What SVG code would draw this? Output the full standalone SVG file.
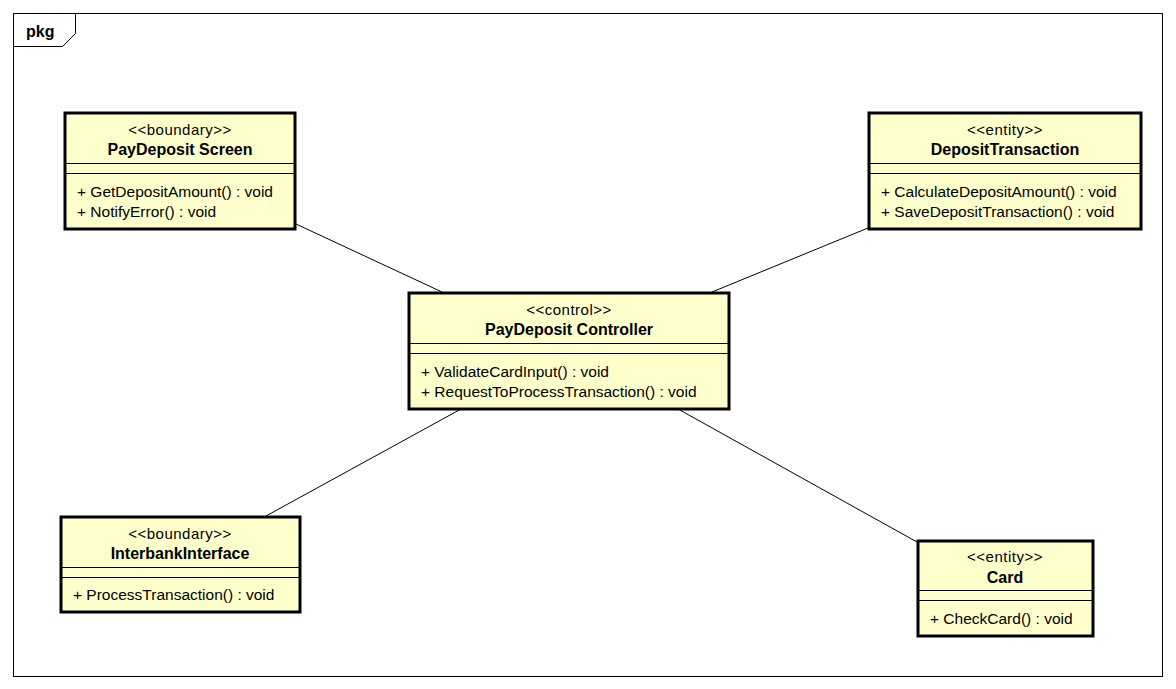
<svg xmlns="http://www.w3.org/2000/svg" width="1176" height="689" viewBox="0 0 1176 689">
<style>
.bg{fill:#ffffff}
.frame{fill:none;stroke:#000;stroke-width:1}
.box{fill:#ffffcc;stroke:#000;stroke-width:3}
.div{stroke:#000;stroke-width:1}
.conn{stroke:#000;stroke-width:1;fill:none}
text{font-family:"Liberation Sans",Arial,sans-serif;font-size:15.5px;fill:#000}
.st{text-anchor:middle;font-size:15px;letter-spacing:0.5px}
.nm{text-anchor:middle;font-weight:bold;font-size:16px}
.pk{font-weight:bold;font-size:16px}
</style>
<rect class="bg" x="0" y="0" width="1176" height="689"/>
<g id="frame">
<rect class="frame" x="13.5" y="13.5" width="1149" height="663"/>
<path class="frame" d="M13.5,46.5 H62.5 L75.5,33.5 V13.5"/>
<text class="pk" x="26" y="37">pkg</text>
</g>
<g id="connectors">
<line class="conn" x1="296" y1="224" x2="442" y2="292"/>
<line class="conn" x1="868" y1="228" x2="712" y2="292"/>
<line class="conn" x1="461" y1="409" x2="266" y2="516"/>
<line class="conn" x1="678" y1="409" x2="917" y2="542"/>
</g>
<g id="paydeposit-screen">
<rect class="box" x="65" y="113" width="230" height="116"/>
<line class="div" x1="65" y1="163.5" x2="295" y2="163.5"/>
<line class="div" x1="65" y1="173.5" x2="295" y2="173.5"/>
<text class="st" x="180" y="135">&lt;&lt;boundary&gt;&gt;</text>
<text class="nm" x="180" y="155">PayDeposit Screen</text>
<text x="77" y="197">+ GetDepositAmount() : void</text>
<text x="77" y="217">+ NotifyError() : void</text>
</g>
<g id="deposit-transaction">
<rect class="box" x="869" y="113" width="272" height="116"/>
<line class="div" x1="869" y1="163.5" x2="1141" y2="163.5"/>
<line class="div" x1="869" y1="173.5" x2="1141" y2="173.5"/>
<text class="st" x="1005" y="135">&lt;&lt;entity&gt;&gt;</text>
<text class="nm" x="1005" y="155">DepositTransaction</text>
<text x="881" y="197">+ CalculateDepositAmount() : void</text>
<text x="881" y="217">+ SaveDepositTransaction() : void</text>
</g>
<g id="paydeposit-controller">
<rect class="box" x="409" y="293" width="320" height="116"/>
<line class="div" x1="409" y1="343.5" x2="729" y2="343.5"/>
<line class="div" x1="409" y1="353.5" x2="729" y2="353.5"/>
<text class="st" x="569" y="315">&lt;&lt;control&gt;&gt;</text>
<text class="nm" x="569" y="335">PayDeposit Controller</text>
<text x="421" y="377">+ ValidateCardInput() : void</text>
<text x="421" y="397">+ RequestToProcessTransaction() : void</text>
</g>
<g id="interbank-interface">
<rect class="box" x="61" y="517" width="239" height="95"/>
<line class="div" x1="61" y1="567.5" x2="300" y2="567.5"/>
<line class="div" x1="61" y1="577.5" x2="300" y2="577.5"/>
<text class="st" x="180" y="539">&lt;&lt;boundary&gt;&gt;</text>
<text class="nm" x="180" y="559">InterbankInterface</text>
<text x="73" y="600">+ ProcessTransaction() : void</text>
</g>
<g id="card">
<rect class="box" x="918" y="541" width="175" height="95"/>
<line class="div" x1="918" y1="590.5" x2="1093" y2="590.5"/>
<line class="div" x1="918" y1="600.5" x2="1093" y2="600.5"/>
<text class="st" x="1005" y="562">&lt;&lt;entity&gt;&gt;</text>
<text class="nm" x="1005" y="583">Card</text>
<text x="930" y="624">+ CheckCard() : void</text>
</g>
</svg>
